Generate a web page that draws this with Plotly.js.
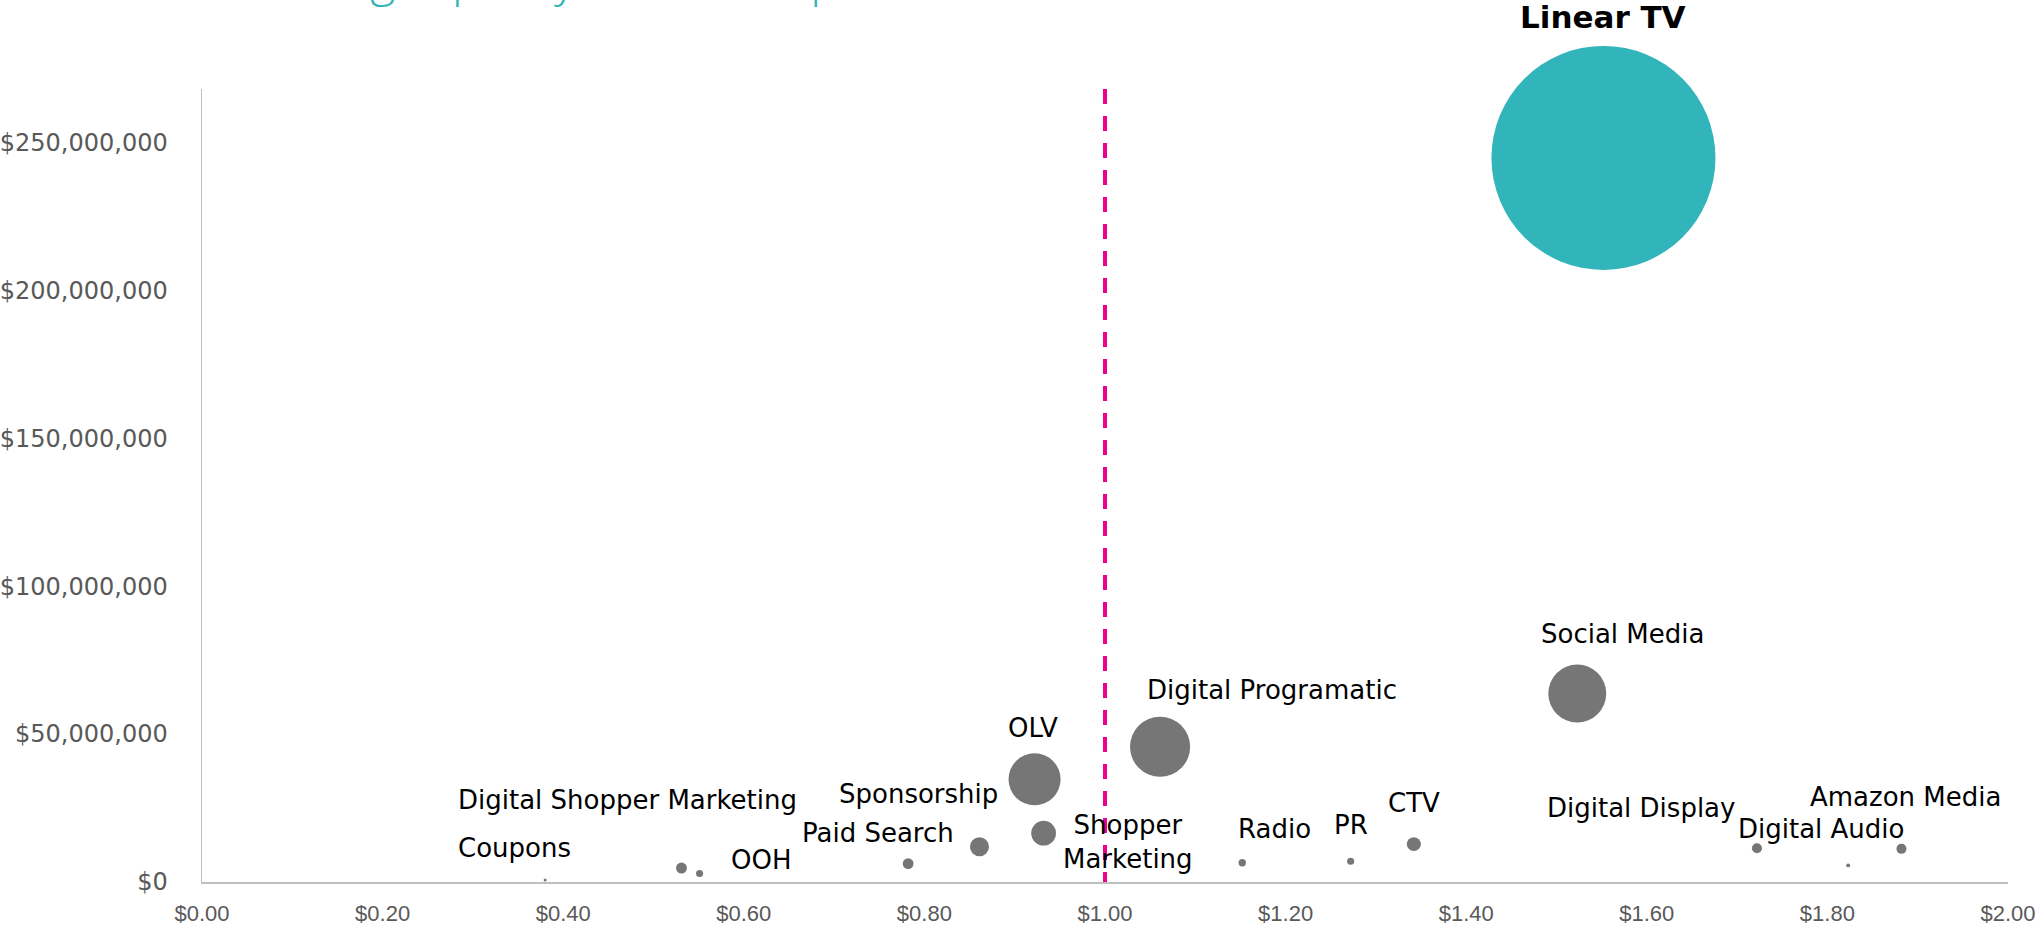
<!DOCTYPE html>
<html>
<head>
<meta charset="utf-8">
<script src="https://cdn.plot.ly/plotly-3.0.1.min.js"></script>
<style>
  html, body { margin: 0; padding: 0; background: #ffffff; }
  #chart { width: 2042px; height: 926px; }
</style>
</head>
<body>
<div id="chart"></div>
<script>
// ---- Data ----
const channels = ["Linear TV", "Social Media", "Digital Programatic", "OLV", "Shopper Marketing",
  "Sponsorship", "Paid Search", "Digital Shopper Marketing", "OOH", "Coupons",
  "Radio", "PR", "CTV", "Digital Display", "Digital Audio", "Amazon Media"];
const costPerPoint = [1.552, 1.523, 1.061, 0.922, 0.932,
  0.861, 0.782, 0.531, 0.551, 0.380,
  1.152, 1.272, 1.342, 1.722, 1.823, 1.882];
const spend = [244.7e6, 63.7e6, 45.7e6, 34.7e6, 16.5e6,
  11.9e6, 6.2e6, 4.7e6, 2.9e6, 0.7e6,
  6.5e6, 7.0e6, 12.8e6, 11.4e6, 5.6e6, 11.2e6];
const bubbleSize = [100, 6.7, 7.2, 5.4, 1.22,
  0.72, 0.23, 0.24, 0.10, 0.018,
  0.11, 0.10, 0.39, 0.20, 0.03, 0.20];
const highlighted = ["Linear TV"];
const xTickValues = [0, 0.2, 0.4, 0.6, 0.8, 1.0, 1.2, 1.4, 1.6, 1.8, 2.0];
const yTickValues = [0, 50e6, 100e6, 150e6, 200e6, 250e6];
const benchmarkCost = 1.0;
const titleText = "Average quality score vs. spend";

// ---- Styles / label placement (pixel offsets from each bubble) ----
const labelOffsets = {
  "Linear TV": [0, 141],
  "Social Media": [45, 60],
  "Digital Programatic": [112, 57],
  "OLV": [-2, 51],
  "Shopper Marketing": [84, -9],
  "Sponsorship": [-61, 53],
  "Paid Search": [-30, 31],
  "Digital Shopper Marketing": [-54, 68],
  "OOH": [61, 13],
  "Coupons": [-31, 32],
  "Radio": [32, 34],
  "PR": [0, 36],
  "CTV": [0, 41],
  "Digital Display": [-116, 40],
  "Digital Audio": [-27, 36],
  "Amazon Media": [4, 52]
};
const TEAL = "#31B5BA";
const GREY = "#767676";
const PINK = "#EC008C";
const AXIS = "#BFBFBF";
const MAX_DIAMETER = 224;

const colors = channels.map(c => highlighted.includes(c) ? TEAL : GREY);

const trace = {
  type: "scatter",
  mode: "markers",
  x: costPerPoint,
  y: spend,
  text: channels,
  cliponaxis: false,
  hoverinfo: "skip",
  marker: {
    size: bubbleSize,
    sizemode: "area",
    sizeref: 2 * Math.max(...bubbleSize) / (MAX_DIAMETER * MAX_DIAMETER),
    sizemin: 0,
    color: colors,
    opacity: 1,
    line: { width: 0 }
  },
  showlegend: false
};

const annotations = channels.map((c, i) => {
  const off = labelOffsets[c] || [0, 0];
  const isHi = highlighted.includes(c);
  return {
    x: costPerPoint[i],
    y: spend[i],
    xref: "x",
    yref: "y",
    text: isHi ? "<b>" + c + "</b>" : (c === "Shopper Marketing" ? "Shopper<br>Marketing" : c),
    showarrow: false,
    xanchor: "center",
    yanchor: "middle",
    xshift: off[0],
    yshift: off[1],
    font: {
      family: "DejaVu Sans, Verdana, sans-serif",
      size: isHi ? 31 : 26,
      color: "#000000"
    }
  };
});

annotations.push({
  xref: "paper",
  yref: "paper",
  x: 0.025,
  y: 1.1407,
  xanchor: "left",
  yanchor: "middle",
  showarrow: false,
  text: titleText,
  font: { family: "Open Sans, sans-serif", size: 48, color: TEAL, weight: 300 }
});

const layout = {
  width: 2042,
  height: 926,
  margin: { l: 202, r: 34, t: 89, b: 44, pad: 0 },
  paper_bgcolor: "#ffffff",
  plot_bgcolor: "#ffffff",
  hovermode: false,
  showlegend: false,
  xaxis: {
    range: [0, 2],
    tickvals: xTickValues,
    tickformat: "$.2f",
    showgrid: false,
    zeroline: false,
    showline: true,
    linecolor: AXIS,
    linewidth: 1.5,
    ticks: "",
    ticklabelstandoff: 11,
    tickfont: { family: "Liberation Sans, Arial, sans-serif", size: 22, color: "#595959" },
    fixedrange: true
  },
  yaxis: {
    range: [0, 268e6],
    tickvals: yTickValues,
    tickformat: "$,.0f",
    showgrid: false,
    zeroline: false,
    showline: true,
    linecolor: AXIS,
    linewidth: 1.5,
    ticks: "",
    ticklabelstandoff: 28,
    tickfont: { family: "DejaVu Sans, Verdana, sans-serif", size: 24, color: "#595959" },
    fixedrange: true
  },
  shapes: [{
    type: "line",
    xref: "x",
    yref: "paper",
    x0: benchmarkCost,
    x1: benchmarkCost,
    y0: 1,
    y1: 0,
    line: { color: PINK, width: 4, dash: "15px,12px" }
  }],
  annotations: annotations
};

Plotly.newPlot("chart", [trace], layout, { displayModeBar: false, staticPlot: true });
</script>
</body>
</html>
